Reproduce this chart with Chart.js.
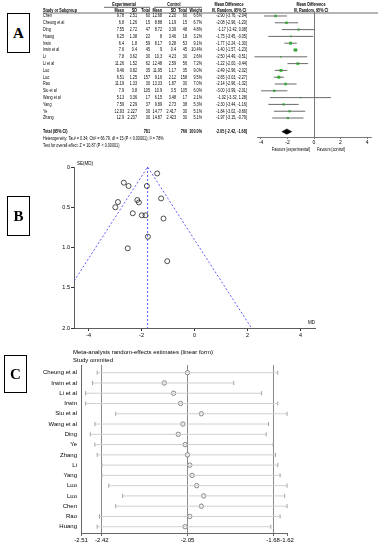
<!DOCTYPE html>
<html>
<head>
<meta charset="utf-8">
<script src="https://cdn.jsdelivr.net/npm/chart.js@4.4.1/dist/chart.umd.min.js"></script>
<style>
  body { margin: 0; background: #fff; }
  #page { position: relative; width: 380px; height: 550px; overflow: hidden; }
  canvas { position: absolute; }
  .tag { position: absolute; box-sizing: border-box; border: 1.5px solid #000; background: #fff;
         font: bold 15px "Liberation Serif", "DejaVu Serif", serif;
         display: flex; align-items: center; justify-content: center; }
</style>
</head>
<body>
<div id="page">
  <canvas id="forest" width="380" height="156" style="left:0;top:0"></canvas>
  <canvas id="funnel" width="300" height="190" style="left:30px;top:155px"></canvas>
  <canvas id="sens" width="380" height="205" style="left:0;top:345px"></canvas>
  <div class="tag" style="left:7px;top:13px;width:23px;height:40px">A</div>
  <div class="tag" style="left:7px;top:196px;width:23px;height:40px">B</div>
  <div class="tag" style="left:4px;top:355px;width:23px;height:38px">C</div>
</div>
<script>
// ---- Panel A: forest plot data ----
const studies = ['Chen', 'Cheung et al', 'Ding', 'Huang', 'Irwin', 'Irwin et al', 'Li', 'Li et al',
                 'Luo', 'Luo', 'Rao', 'Siu et al', 'Wang et al', 'Yang', 'Ye', 'Zhang'];
const expMean = ['9.78', '6.8', '7.55', '6.25', '6.4', '7.6', '7.8', '11.26', '9.46', '6.51', '11.19', '7.9', '5.13', '7.59', '12.93', '12.9'];
const expSD   = ['2.51', '1.26', '2.72', '1.38', '1.8', '0.4', '3.62', '1.52', '0.82', '1.25', '1.33', '3.8', '3.36', '2.29', '2.227', '2.237'];
const expN    = ['60', '15', '47', '22', '59', '45', '30', '62', '35', '157', '30', '105', '17', '37', '30', '30'];
const ctlMean = ['12.68', '8.88', '8.72', '8', '8.17', '9', '10.3', '12.48', '11.95', '9.16', '13.33', '10.9', '6.15', '9.89', '14.77', '14.87'];
const ctlSD   = ['2.20', '1.19', '3.39', '3.46', '0.28', '0.4', '4.23', '2.59', '1.17', '2.12', '1.87', '3.5', '3.48', '2.73', '2.417', '2.423'];
const ctlN    = ['60', '15', '48', '18', '53', '45', '30', '56', '35', '158', '30', '105', '17', '38', '30', '30'];
const weight  = [6.6, 6.7, 4.8, 3.2, 9.1, 10.4, 2.6, 7.2, 9.0, 9.5, 7.0, 6.0, 2.1, 5.3, 5.1, 5.1];
const md      = [-2.90, -2.08, -1.17, -1.75, -1.77, -1.40, -2.50, -1.22, -2.49, -2.65, -2.14, -3.00, -1.02, -2.30, -1.84, -1.97];
const ciLow   = [-3.76, -2.96, -2.42, -3.45, -2.24, -1.57, -4.49, -2.00, -2.96, -3.03, -2.96, -3.99, -3.32, -3.44, -3.02, -3.15];
const ciHigh  = [-2.04, -1.20, 0.08, -0.05, -1.30, -1.23, -0.51, -0.44, -2.02, -2.27, -1.32, -2.01, 1.28, -1.16, -0.66, -0.79];
const totalMD = -2.05, totalLow = -2.42, totalHigh = -1.68;
const totalExpN = '781', totalCtlN = '766';
const forestTicks = [-4, -2, 0, 2, 4];

// ---- Panel B: funnel plot data ----
const funnelMD = [-1.41, -2.67, -2.49, -1.80, -1.26, -2.16, -2.10, -2.89, -2.99, -2.33, -1.99, -1.85, -1.17, -1.76, -2.52, -1.03];
const funnelSE = [0.08, 0.195, 0.236, 0.236, 0.39, 0.41, 0.44, 0.435, 0.50, 0.575, 0.60, 0.60, 0.64, 0.866, 1.01, 1.17];
const funnelCenter = -1.77;
const funnelXTicks = [-4, -2, 0, 2, 4];
const funnelYTicks = [0, 0.5, 1, 1.5, 2];

// ---- Panel C: leave-one-out estimates ----
const omitted = ['Cheung et al', 'Irwin et al', 'Li et al', 'Irwin', 'Siu et al', 'Wang et al', 'Ding', 'Ye',
                 'Zhang', 'Li', 'Yang', 'Luo', 'Luo', 'Chen', 'Rao', 'Huang'];
const omitEst  = [-2.05, -2.15, -2.11, -2.08, -1.99, -2.07, -2.09, -2.06, -2.05, -2.04, -2.03, -2.01, -1.98, -1.99, -2.04, -2.06];
const omitLow  = [-2.44, -2.46, -2.49, -2.49, -2.36, -2.45, -2.47, -2.45, -2.44, -2.42, -2.42, -2.39, -2.33, -2.36, -2.43, -2.44];
const omitHigh = [-1.66, -1.85, -1.73, -1.66, -1.62, -1.70, -1.71, -1.68, -1.67, -1.66, -1.65, -1.62, -1.63, -1.62, -1.65, -1.69];
const sensTicks = [-2.51, -2.42, -2.05, -1.68, -1.62];
const sensLines = [-2.42, -2.05, -1.68];

const FONT = '"Liberation Sans", Arial, sans-serif';
Chart.defaults.font.family = FONT;
Chart.defaults.animation = false;
Chart.defaults.plugins.legend.display = false;
Chart.defaults.plugins.tooltip.enabled = false;

// draw (optionally squeezed) text on a canvas
function txt(ctx, s, x, y, align, bold, size, sx) {
    ctx.save();
    ctx.translate(x, y);
    ctx.scale(sx || 1, 1);
    ctx.font = (bold ? 'bold ' : '') + size + 'px ' + FONT;
    ctx.textAlign = align;
    ctx.textBaseline = 'middle';
    ctx.fillStyle = '#000';
    ctx.fillText(s, 0, 0);
    ctx.restore();
}

// build line segments separated by gaps
function segments(lo, hi, ys) {
    const out = [];
    lo.forEach((v, i) => {
        out.push({x: v, y: ys[i]}, {x: hi[i], y: ys[i]}, {x: null, y: null});
    });
    return out;
}
const fixTicks = vals => scale => { scale.ticks = vals.map(v => ({value: v})); };

// ---- Panel A ----
const rows = studies.map((s, i) => i);
const totalRow = 17;
const tablePlugin = {
    id: 'table',
    afterDraw(chart) {
        const ctx = chart.ctx;
        const y = chart.scales.y;
        const F = 5, SX = 0.75;
        const cols = [124, 137, 150, 162, 176, 187, 202];
        // headers
        txt(ctx, 'Experimental', 124, 4.5, 'center', true, F, SX);
        txt(ctx, 'Control', 174, 4.5, 'center', true, F, SX);
        txt(ctx, 'Mean Difference', 229, 4.5, 'center', true, F, SX);
        txt(ctx, 'Mean Difference', 311, 4.5, 'center', true, F, SX);
        txt(ctx, 'Study or Subgroup', 43, 10.3, 'left', true, F, SX);
        ['Mean', 'SD', 'Total', 'Mean', 'SD', 'Total', 'Weight'].forEach((h, k) =>
            txt(ctx, h, cols[k], 10.3, 'right', true, F, SX));
        txt(ctx, 'IV, Random, 95% CI', 229, 10.3, 'center', true, F, SX);
        txt(ctx, 'IV, Random, 95% CI', 311, 10.3, 'center', true, F, SX);
        ctx.strokeStyle = '#444';
        ctx.lineWidth = 0.8;
        ctx.beginPath();
        ctx.moveTo(43, 13); ctx.lineTo(378, 13);
        ctx.moveTo(104, 7.3); ctx.lineTo(150, 7.3);
        ctx.moveTo(154, 7.3); ctx.lineTo(202, 7.3);
        ctx.stroke();
        // study rows
        studies.forEach((s, i) => {
            const py = y.getPixelForValue(i);
            const cells = [expMean[i], expSD[i], expN[i], ctlMean[i], ctlSD[i], ctlN[i], weight[i].toFixed(1) + '%'];
            txt(ctx, s, 43, py, 'left', false, F, SX);
            cells.forEach((c, k) => txt(ctx, c, cols[k], py, 'right', false, F, SX));
            txt(ctx, md[i].toFixed(2) + ' [' + ciLow[i].toFixed(2) + ', ' + ciHigh[i].toFixed(2) + ']', 247, py, 'right', false, F, SX);
        });
        const ty = y.getPixelForValue(totalRow);
        txt(ctx, 'Total (95% CI)', 43, ty, 'left', true, F, SX);
        txt(ctx, totalExpN, cols[2], ty, 'right', true, F, SX);
        txt(ctx, totalCtlN, cols[5], ty, 'right', true, F, SX);
        txt(ctx, '100.0%', cols[6], ty, 'right', true, F, SX);
        txt(ctx, totalMD.toFixed(2) + ' [' + totalLow.toFixed(2) + ', ' + totalHigh.toFixed(2) + ']', 247, ty, 'right', true, F, SX);
        txt(ctx, 'Heterogeneity: Tau² = 0.34; Chi² = 66.79, df = 15 (P < 0.00001); I² = 78%', 43, y.getPixelForValue(18), 'left', false, F, SX);
        txt(ctx, 'Test for overall effect: Z = 10.87 (P < 0.00001)', 43, y.getPixelForValue(19), 'left', false, F, SX);
        const x0 = chart.scales.x.getPixelForValue(0);
        txt(ctx, 'Favours [experimental]', x0 - 4, 149.5, 'right', false, F, SX);
        txt(ctx, 'Favours [control]', x0 + 3, 149.5, 'left', false, F, SX);
    }
};

new Chart(document.getElementById('forest'), {
    type: 'scatter',
    data: {
        datasets: [
            {
                type: 'line',
                data: segments(ciLow, ciHigh, rows),
                borderColor: '#6a6a6a',
                borderWidth: 1,
                pointRadius: 0,
                spanGaps: false,
                clip: false
            },
            {
                data: md.map((v, i) => ({x: v, y: i})),
                pointStyle: 'rect',
                pointRadius: weight.map(w => Math.sqrt(w) * 0.7),
                backgroundColor: '#22d022',
                borderWidth: 0
            },
            {
                type: 'line',
                data: [
                    {x: totalLow, y: totalRow}, {x: totalMD, y: totalRow - 0.4},
                    {x: totalHigh, y: totalRow}, {x: totalMD, y: totalRow + 0.4},
                    {x: totalLow, y: totalRow}
                ],
                borderColor: '#000',
                backgroundColor: '#000',
                borderWidth: 0.5,
                pointRadius: 0,
                fill: 'shape'
            }
        ]
    },
    options: {
        responsive: false,
        layout: {padding: {left: 257, right: 9, top: 13, bottom: 0}},
        scales: {
            x: {
                type: 'linear', min: -4.3, max: 4.3,
                afterBuildTicks: fixTicks(forestTicks),
                afterFit: s => { s.height = 19; },
                ticks: {font: {size: 5}, color: '#000', padding: 1, maxRotation: 0},
                grid: {
                    color: c => (c.tick && c.tick.value === 0) ? '#555' : 'rgba(0,0,0,0)',
                    tickColor: '#555', tickLength: 2, lineWidth: 0.8
                },
                border: {color: '#555', width: 0.8}
            },
            y: {type: 'linear', display: false, reverse: true, min: -0.44, max: 17.79}
        }
    },
    plugins: [tablePlugin]
});

// ---- Panel B ----
const funnelLabels = {
    id: 'funnelLabels',
    afterDraw(chart) {
        const a = chart.chartArea;
        txt(chart.ctx, 'SE(MD)', a.left + 3, a.top - 3, 'left', false, 5, 0.9);
        txt(chart.ctx, 'MD', a.right - 7, a.bottom - 5, 'left', false, 5, 0.9);
    }
};
const funnelWidth = 1.96 * 2;
new Chart(document.getElementById('funnel'), {
    type: 'scatter',
    data: {
        datasets: [
            {
                data: funnelMD.map((v, i) => ({x: v, y: funnelSE[i]})),
                pointStyle: 'circle',
                pointRadius: 2.5,
                borderColor: '#222',
                borderWidth: 0.8,
                backgroundColor: 'rgba(0,0,0,0)'
            },
            {
                type: 'line',
                data: [{x: funnelCenter - funnelWidth, y: 2}, {x: funnelCenter, y: 0}, {x: funnelCenter + funnelWidth, y: 2}],
                borderColor: '#4a4aff',
                borderWidth: 0.9,
                borderDash: [2, 2],
                pointRadius: 0
            },
            {
                type: 'line',
                data: [{x: funnelCenter, y: 0}, {x: funnelCenter, y: 2}],
                borderColor: '#4a4aff',
                borderWidth: 0.9,
                borderDash: [2, 2],
                pointRadius: 0
            }
        ]
    },
    options: {
        responsive: false,
        layout: {padding: {left: 0, right: 15, top: 12, bottom: 0}},
        scales: {
            x: {
                type: 'linear', min: -4.55, max: 4.55,
                afterBuildTicks: fixTicks(funnelXTicks),
                afterFit: s => { s.height = 17; },
                ticks: {font: {size: 5.5}, color: '#000', padding: 1, maxRotation: 0},
                grid: {drawOnChartArea: false, tickColor: '#333', tickLength: 3},
                border: {color: '#333', width: 0.8}
            },
            y: {
                type: 'linear', reverse: true, min: 0, max: 2,
                afterBuildTicks: fixTicks(funnelYTicks),
                afterFit: s => { s.width = 44; },
                ticks: {font: {size: 5.5}, color: '#000', padding: 1},
                grid: {drawOnChartArea: false, tickColor: '#333', tickLength: 3},
                border: {color: '#333', width: 0.8}
            }
        }
    },
    plugins: [funnelLabels]
});

// ---- Panel C ----
const sensRows = omitted.map((s, i) => i);
const sensTitle = {
    id: 'sensTitle',
    afterDraw(chart) {
        txt(chart.ctx, 'Meta-analysis random-effects estimates (linear form)', 73, 7, 'left', false, 6, 1);
        txt(chart.ctx, 'Study ommited', 73, 15, 'left', false, 6, 1);
    }
};
new Chart(document.getElementById('sens'), {
    type: 'scatter',
    data: {
        datasets: [
            {
                type: 'line',
                data: segments(omitLow, omitHigh, sensRows),
                borderColor: '#cfcfcf',
                borderWidth: 1,
                pointRadius: 0,
                spanGaps: false
            },
            {
                data: omitLow.map((v, i) => ({x: v, y: i})).concat(omitHigh.map((v, i) => ({x: v, y: i}))),
                pointStyle: 'line',
                rotation: 90,
                pointRadius: 2,
                borderColor: '#9a9a9a',
                borderWidth: 1,
                clip: false
            },
            {
                data: omitEst.map((v, i) => ({x: v, y: i})),
                pointStyle: 'circle',
                pointRadius: 2.2,
                borderColor: '#666',
                borderWidth: 0.8,
                backgroundColor: '#fff'
            }
        ]
    },
    options: {
        responsive: false,
        layout: {padding: {left: 0, right: 93, top: 20, bottom: 0}},
        scales: {
            x: {
                type: 'linear', min: -2.51, max: -1.62,
                afterBuildTicks: fixTicks(sensTicks),
                afterFit: s => { s.height = 17; },
                ticks: {font: {size: 6}, color: '#000', padding: 1, maxRotation: 0, callback: v => v.toFixed(2)},
                grid: {
                    color: c => (c.tick && sensLines.includes(c.tick.value)) ? '#8a8a8a' : 'rgba(0,0,0,0)',
                    tickColor: '#666', tickLength: 3, lineWidth: 1
                },
                border: {color: '#666', width: 1}
            },
            y: {
                type: 'linear', reverse: true, min: -0.75, max: 15.61,
                afterBuildTicks: fixTicks(sensRows),
                afterFit: s => { s.width = 81; },
                ticks: {font: {size: 6}, color: '#000', padding: 4, callback: v => omitted[v]},
                grid: {drawOnChartArea: false, drawTicks: false},
                border: {color: '#666', width: 1}
            }
        }
    },
    plugins: [sensTitle]
});
</script>
</body>
</html>
